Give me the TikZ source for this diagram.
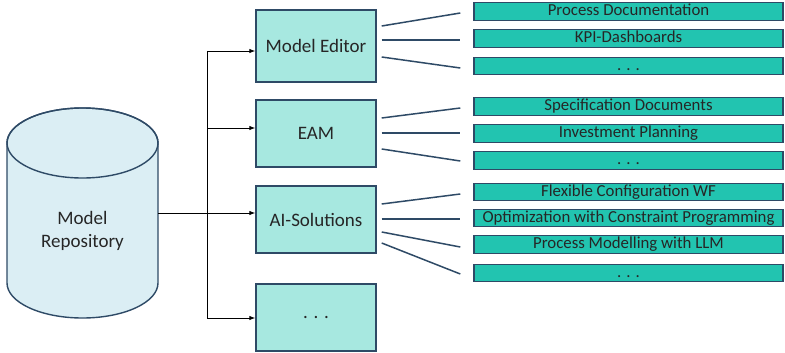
\documentclass[tikz,border=0pt]{standalone}
\usepackage{fontspec}
\setmainfont{Carlito}
\usetikzlibrary{arrows.meta}

\definecolor{edgeblue}{HTML}{2E4A66}
\definecolor{toolfill}{HTML}{A7E8E0}
\definecolor{outfill}{HTML}{22C4B0}
\definecolor{repofill}{HTML}{DBEEF4}

\begin{document}
\begin{tikzpicture}[x=1pt,y=-1pt,
  toolbox/.style={draw=edgeblue, line width=1.4pt, fill=toolfill,
    minimum width=120pt, minimum height=67pt, inner sep=0pt,
    font=\fontsize{19}{23}\selectfont, text=black!85},
  outbox/.style={draw=edgeblue, line width=1.4pt, fill=outfill,
    minimum width=309pt, minimum height=17.5pt, inner sep=0pt,
    text height=12pt, text depth=3.6pt,
    font=\fontsize{16.8}{19}\selectfont, text=black!85},
  wire/.style={black, line width=0.9pt},
  feed/.style={wire, -{Latex[length=6pt,width=4.5pt]}},
  fan/.style={draw=edgeblue, line width=1.5pt}]

\useasboundingbox (0,0) rectangle (785,353);

% repository cylinder
\filldraw[fill=repofill, draw=edgeblue, line width=1.4pt]
  (7,143) -- (7,283) arc[start angle=180, end angle=0, x radius=75.5, y radius=35]
  -- (158,143) arc[start angle=0, end angle=-180, x radius=75.5, y radius=35] -- cycle;
\draw[edgeblue, line width=1.4pt] (82.5,143) ellipse[x radius=75.5, y radius=35];
\node[align=center, font=\fontsize{19}{23}\selectfont, text=black!85] (repo) at (82.5,231)
  {Model\\Repository};
\coordinate (repoout) at (158,213);

% tool boxes
\node[toolbox, minimum height=72pt] (ed) at (316,46) {Model Editor};
\node[toolbox] (eam) at (316,133.5) {EAM};
\node[toolbox] (ai) at (316,219.5) {AI-Solutions};
\node[toolbox] (more) at (316,317.5) {. . .};

% distribution trunk
\coordinate (tTop) at (207,51);
\coordinate (tMid) at (207,128);
\coordinate (tBot) at (207,318);
\draw[wire] (tTop) -- (tBot);
\draw[feed] (tTop) -- (tTop -| ed.west);
\draw[feed] (tMid) -- (tMid -| eam.west);
\draw[feed] (repoout) -- (repoout -| ai.west);
\draw[feed] (tBot) -- (tBot -| more.west);

% output boxes
\node[outbox] (r1) at (628.5,11.5) {Process Documentation};
\node[outbox] (r2) at (628.5,38.5) {KPI-Dashboards};
\node[outbox] (r3) at (628.5,66) {. . .};
\node[outbox] (r4) at (628.5,106.5) {Specification Documents};
\node[outbox] (r5) at (628.5,133.5) {Investment Planning};
\node[outbox] (r6) at (628.5,160.5) {. . .};
\node[outbox] (r7) at (628.5,192) {Flexible Configuration WF};
\node[outbox] (r8) at (628.5,218) {Optimization with Constraint Programming};
\node[outbox] (r9) at (628.5,244.5) {Process Modelling with LLM};
\node[outbox] (r10) at (628.5,273) {. . .};

% fan-out links
\foreach \src/\dy/\dst/\ty in {ed/-20/r1/1.5, ed/-6/r2/1.5, ed/11/r3/2,
    eam/-15.5/r4/1.5, eam/-0.5/r5/-0.5, eam/15.5/r6/0.5,
    ai/-15.5/r7/2, ai/-0.5/r8/1, ai/12.5/r9/2.5, ai/23.5/r10/1}
  \draw[fan] ([shift={(5,\dy)}]\src.east) -- ([shift={(-13,\ty)}]\dst.west);
\end{tikzpicture}
\end{document}
